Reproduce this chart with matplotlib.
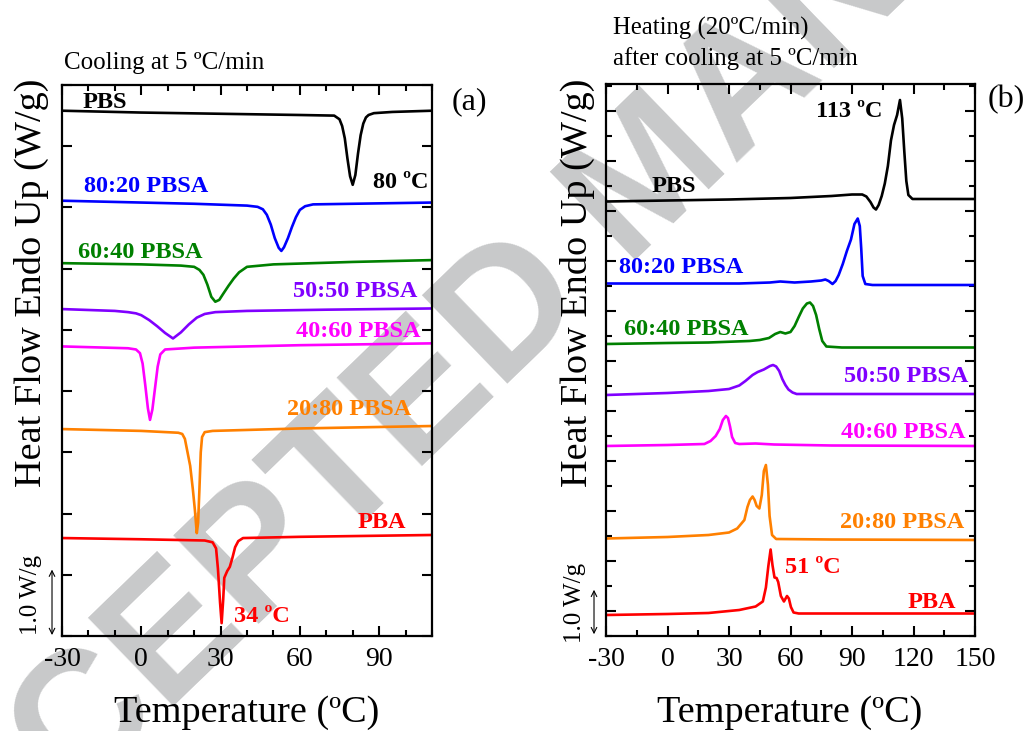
"""
DSC: охлаждение (a) и нагрев (b) для PBS, PBA и сополимеров PBSA
"""

import matplotlib

matplotlib.use("Agg")
import matplotlib.pyplot as plt
from matplotlib.ticker import MultipleLocator

plt.rcParams["font.family"] = "serif"
plt.rcParams["font.serif"] = ["Liberation Serif", "DejaVu Serif"]
plt.rcParams["axes.unicode_minus"] = False

# ---- cooling at 5 C/min (panel a), heat flow with vertical offsets ----
cool_t_pbs = [-30, 0, 30, 60, 73, 75, 76, 77, 78, 79, 80, 81, 82, 83, 84, 85, 86, 88, 95, 110]
cool_pbs = [8.58, 8.55, 8.53, 8.51, 8.50, 8.44, 8.33, 8.13, 7.80, 7.51, 7.37, 7.53, 7.88, 8.18, 8.37, 8.47, 8.51, 8.54, 8.56, 8.58]

cool_t_8020 = [-30, 0, 20, 40, 44, 46, 47.5, 49, 50.5, 52, 53, 54, 55.5, 57, 58.5, 60, 62, 65, 80, 110]
cool_8020 = [7.11, 7.08, 7.06, 7.03, 7.01, 6.97, 6.88, 6.72, 6.50, 6.34, 6.29, 6.35, 6.50, 6.68, 6.84, 6.96, 7.02, 7.05, 7.06, 7.08]

cool_t_6040 = [-30, 0, 15, 20, 22, 23.5, 25, 26.5, 28, 29.5, 31, 33, 35, 37, 40, 50, 80, 110]
cool_6040 = [6.09, 6.07, 6.05, 6.03, 5.98, 5.90, 5.74, 5.54, 5.46, 5.49, 5.59, 5.72, 5.84, 5.94, 6.03, 6.07, 6.11, 6.14]

cool_t_5050 = [-30, -10, -5, -2, 0, 3, 6, 9, 12, 15, 18, 21, 24, 28, 40, 70, 110]
cool_5050 = [5.34, 5.31, 5.29, 5.27, 5.24, 5.16, 5.06, 4.95, 4.86, 4.96, 5.09, 5.20, 5.26, 5.29, 5.31, 5.33, 5.35]

cool_t_4060 = [-30, -5, -2, -0.5, 0.5, 1.5, 2.5, 3.3, 4.2, 5.2, 6.2, 7.2, 9, 20, 60, 110]
cool_4060 = [4.73, 4.70, 4.68, 4.62, 4.45, 4.10, 3.72, 3.53, 3.70, 4.05, 4.40, 4.60, 4.68, 4.71, 4.75, 4.78]

cool_t_2080 = [-30, 0, 14, 15.5, 16.5, 17.5, 18.5, 19.5, 20.3, 21.0, 21.5, 22.0, 22.5, 23.0, 24, 27, 60, 110]
cool_2080 = [3.38, 3.35, 3.32, 3.30, 3.22, 3.00, 2.78, 2.40, 2.05, 1.68, 1.85, 2.40, 3.00, 3.25, 3.33, 3.35, 3.39, 3.43]

cool_t_pba = [-30, 0, 24, 27, 28.3, 29, 29.8, 30.4, 31.0, 31.4, 32.5, 33.5, 34.5, 35.5, 36.7, 38.5, 60, 110]
cool_pba = [1.60, 1.58, 1.56, 1.53, 1.43, 1.10, 0.55, 0.21, 0.60, 0.95, 1.06, 1.13, 1.28, 1.45, 1.55, 1.60, 1.62, 1.65]

# ---- heating at 20 C/min (panel b) ----
heat_t_pbs = [-30, 0, 30, 60, 80, 90, 95, 97, 99, 100.5, 101.7, 103, 104.5, 106, 107.5, 109, 110.5, 112, 113.4, 114.5, 115.5, 116.5, 117.5, 119.5, 130, 150]
heat_pbs = [8.69, 8.71, 8.73, 8.76, 8.80, 8.83, 8.83, 8.79, 8.68, 8.57, 8.53, 8.62, 8.80, 9.05, 9.40, 9.91, 10.22, 10.42, 10.72, 10.35, 9.70, 9.10, 8.82, 8.74, 8.74, 8.74]

heat_t_8020 = [-30, 0, 35, 50, 55, 62, 70, 75, 77, 78.6, 80.5, 82, 83.5, 85.5, 87.5, 89.5, 91.2, 92.8, 93.8, 94.5, 95.2, 96.5, 100, 120, 150]
heat_8020 = [7.05, 7.05, 7.05, 7.07, 7.09, 7.07, 7.09, 7.11, 7.13, 7.10, 7.04, 7.10, 7.22, 7.44, 7.70, 7.93, 8.24, 8.35, 8.20, 7.75, 7.20, 7.04, 7.02, 7.02, 7.02]

heat_t_6040 = [-30, 0, 20, 40, 45, 49.5, 52.5, 55, 57.5, 60, 62, 64, 66, 68, 69.5, 71, 72.5, 74, 75.5, 77.5, 85, 150]
heat_6040 = [5.84, 5.86, 5.87, 5.90, 5.92, 5.96, 6.04, 6.08, 6.05, 6.08, 6.20, 6.38, 6.55, 6.65, 6.67, 6.60, 6.42, 6.14, 5.90, 5.79, 5.77, 5.77]

heat_t_5050 = [-30, 0, 20, 30, 35, 38, 41.5, 44, 47, 50, 51.5, 53, 54.5, 56, 57.5, 59, 61, 63, 90, 150]
heat_5050 = [4.82, 4.86, 4.90, 4.94, 5.01, 5.10, 5.22, 5.28, 5.33, 5.40, 5.42, 5.39, 5.30, 5.14, 5.02, 4.93, 4.87, 4.84, 4.84, 4.84]

heat_t_4060 = [-30, 0, 18, 21, 23.5, 25.5, 27, 28.5, 29.5, 30.5, 31.5, 33, 35, 43, 52, 80, 150]
heat_4060 = [3.80, 3.82, 3.84, 3.90, 4.00, 4.14, 4.32, 4.40, 4.36, 4.19, 3.98, 3.86, 3.84, 3.85, 3.83, 3.81, 3.80]

heat_t_2080 = [-30, 0, 20, 30, 34, 37.5, 39, 40.2, 41.5, 42.5, 43.5, 44.8, 46, 47, 48, 49, 49.8, 51, 53, 80, 150]
heat_2080 = [1.95, 1.98, 2.02, 2.07, 2.15, 2.32, 2.58, 2.72, 2.79, 2.72, 2.60, 2.55, 2.82, 3.30, 3.42, 3.02, 2.40, 2.02, 1.94, 1.93, 1.92]

heat_t_pba = [-30, 0, 20, 35, 43, 46.5, 48, 49.2, 50.3, 51.2, 52.2, 53.2, 54, 55.3, 56.8, 58.3, 59.2, 60.2, 61.5, 64, 100, 150]
heat_pba = [0.42, 0.44, 0.46, 0.52, 0.59, 0.69, 0.97, 1.40, 1.73, 1.42, 1.17, 1.16, 1.08, 0.80, 0.69, 0.80, 0.75, 0.58, 0.47, 0.45, 0.45, 0.45]

colors = ["black", "#0000ff", "#008000", "#8000ff", "#ff00ff", "#ff8000", "#ff0000"]
names = ["PBS", "80:20 PBSA", "60:40 PBSA", "50:50 PBSA", "40:60 PBSA", "20:80 PBSA", "PBA"]


def style_axes(ax, xmax):
    for sp in ax.spines.values():
        sp.set_linewidth(1.6)
    ax.set_facecolor("none")
    ax.xaxis.set_major_locator(MultipleLocator(30))
    ax.tick_params(which="both", direction="in", top=True, right=True,
                   labelleft=False, width=1.5)
    ax.tick_params(which="major", length=7, labelsize=20, pad=8)
    ax.tick_params(which="minor", length=4)
    ax.set_xlim(-30, xmax)


fig = plt.figure(figsize=(10.26, 7.31), dpi=100)
fig.patch.set_facecolor("white")

# watermark behind everything
fig.text(652 / 1026, 1 - 180 / 731, "ACCEPTED MANUSCRIPT", fontsize=128,
         fontweight="bold", family="Liberation Sans", color="#c8c9ca",
         rotation=44, rotation_mode="anchor", ha="center", va="center", zorder=-1)

# ---------------- (a) cooling ----------------
ax1 = fig.add_axes([62 / 1026, 95 / 731, 370 / 1026, 551 / 731])
cool = [(cool_t_pbs, cool_pbs), (cool_t_8020, cool_8020), (cool_t_6040, cool_6040),
        (cool_t_5050, cool_5050), (cool_t_4060, cool_4060), (cool_t_2080, cool_2080),
        (cool_t_pba, cool_pba)]
for (t, q), c in zip(cool, colors):
    ax1.plot(t, q, color=c, lw=1.9)
style_axes(ax1, 110)
ax1.set_ylim(0, 9.0)
ax1.xaxis.set_minor_locator(MultipleLocator(10))
ax1.yaxis.set_major_locator(MultipleLocator(1))

lab = dict(fontsize=17.5, fontweight="bold", va="baseline")
ax1.text(-22.1, 8.63, names[0], color=colors[0], ha="left", **lab)
ax1.text(108.5, 7.32, "80 ºC", color=colors[0], ha="right", **lab)
ax1.text(-21.7, 7.25, names[1], color=colors[1], ha="left", **lab)
ax1.text(-24.0, 6.18, names[2], color=colors[2], ha="left", **lab)
ax1.text(104.3, 5.54, names[3], color=colors[3], ha="right", **lab)
ax1.text(105.8, 4.89, names[4], color=colors[4], ha="right", **lab)
ax1.text(102.1, 3.61, names[5], color=colors[5], ha="right", **lab)
ax1.text(100.2, 1.76, names[6], color=colors[6], ha="right", **lab)
ax1.text(34.9, 0.23, "34 ºC", color=colors[6], ha="left", **lab)

ax1.annotate("", xy=(-0.027, -0.03), xytext=(-0.027, 1.13),
             xycoords=("axes fraction", "data"), textcoords=("axes fraction", "data"),
             arrowprops=dict(arrowstyle="<->", color="black", lw=0.8),
             annotation_clip=False)
ax1.text(-0.084, 0.67, "1.0 W/g", transform=ax1.get_yaxis_transform(),
         rotation=90, fontsize=18, ha="center", va="center")

# ---------------- (b) heating ----------------
ax2 = fig.add_axes([606 / 1026, 95 / 731, 369 / 1026, 552 / 731])
heat = [(heat_t_pbs, heat_pbs), (heat_t_8020, heat_8020), (heat_t_6040, heat_6040),
        (heat_t_5050, heat_5050), (heat_t_4060, heat_4060), (heat_t_2080, heat_2080),
        (heat_t_pba, heat_pba)]
for (t, q), c in zip(heat, colors):
    ax2.plot(t, q, color=c, lw=1.9)
style_axes(ax2, 150)
ax2.set_ylim(0, 11.04)
ax2.xaxis.set_minor_locator(MultipleLocator(15))
ax2.yaxis.set_major_locator(MultipleLocator(1, offset=0.5))
ax2.yaxis.set_minor_locator(MultipleLocator(0.5))

ax2.text(105.1, 10.38, "113 ºC", color=colors[0], ha="right", **lab)
ax2.text(-7.6, 8.88, names[0], color=colors[0], ha="left", **lab)
ax2.text(-23.7, 7.26, names[1], color=colors[1], ha="left", **lab)
ax2.text(-21.2, 6.02, names[2], color=colors[2], ha="left", **lab)
ax2.text(146.6, 5.08, names[3], color=colors[3], ha="right", **lab)
ax2.text(145.6, 3.96, names[4], color=colors[4], ha="right", **lab)
ax2.text(144.6, 2.16, names[5], color=colors[5], ha="right", **lab)
ax2.text(57.3, 1.26, "51 ºC", color=colors[6], ha="left", **lab)
ax2.text(140.7, 0.56, names[6], color=colors[6], ha="right", **lab)

ax2.annotate("", xy=(-0.0325, -0.02), xytext=(-0.0325, 0.98),
             xycoords=("axes fraction", "data"), textcoords=("axes fraction", "data"),
             arrowprops=dict(arrowstyle="<->", color="black", lw=0.8),
             annotation_clip=False)
ax2.text(-0.084, 0.66, "1.0 W/g", transform=ax2.get_yaxis_transform(),
         rotation=90, fontsize=18, ha="center", va="center")

# ---------------- figure-level texts ----------------
fig.text(64 / 1026, 1 - 69 / 731, "Cooling at 5 ºC/min", fontsize=18, va="baseline")
fig.text(613 / 1026, 1 - 35 / 731, "Heating (20ºC/min)", fontsize=17.8, va="baseline")
fig.text(613 / 1026, 1 - 65 / 731, "after cooling at 5 ºC/min", fontsize=17.8, va="baseline")
fig.text(452 / 1026, 1 - 102 / 731, "(a)", fontsize=23, va="center")
fig.text(988 / 1026, 1 - 100 / 731, "(b)", fontsize=23, va="center")

for x in (31, 577):
    fig.text(x / 1026, 1 - 283 / 731, "Heat Flow Endo Up (W/g)", fontsize=27.5,
             rotation=90, ha="center", va="center")
for x in (247, 790):
    fig.text(x / 1026, 1 - 713 / 731, "Temperature (ºC)", fontsize=27.5,
             ha="center", va="center")

fig.savefig("out.png", dpi=100)
